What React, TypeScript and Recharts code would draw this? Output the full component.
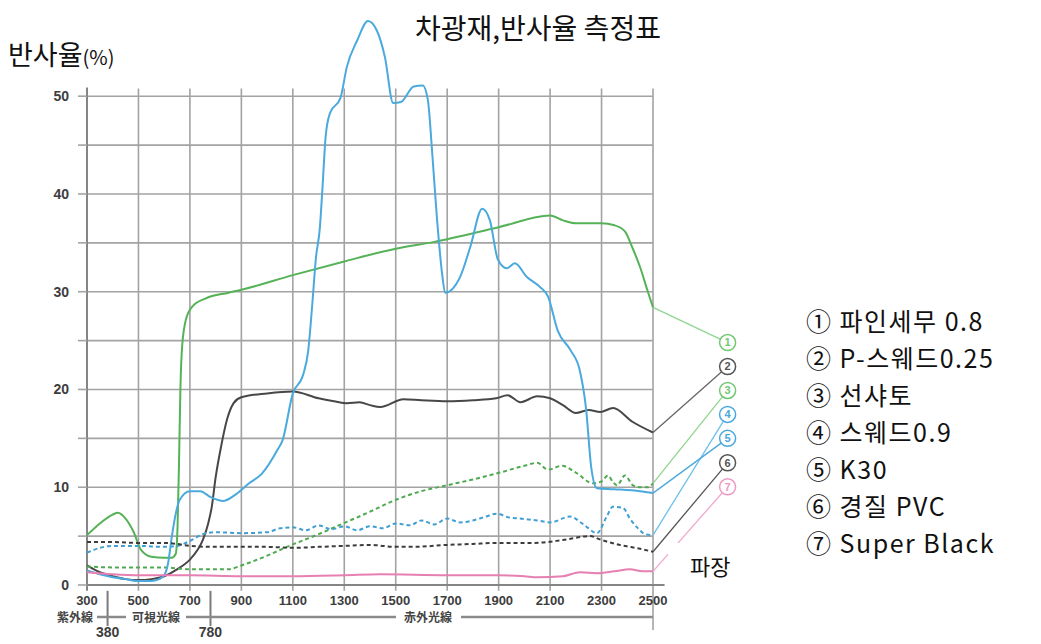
import React from 'react';
import { LineChart, Line, XAxis, YAxis, ReferenceLine, ReferenceDot } from 'recharts';

// ---------- data ----------
const xTicks = [300, 500, 700, 900, 1100, 1300, 1500, 1700, 1900, 2100, 2300, 2500];
const yTicks = [0, 5, 10, 15, 20, 25, 30, 35, 40, 45, 50];

// ① 파인세무 0.8 (green solid)
const s1Wave = [300, 350, 400, 420, 450, 480, 510, 550, 600, 630, 645, 652, 658, 663, 670, 685, 710, 760, 850, 900, 1100, 1300, 1500, 1650, 1900, 2100, 2150, 2200, 2300, 2350, 2390, 2420, 2450, 2480, 2500];
const s1Val = [5.1, 6.3, 7.2, 7.4, 6.8, 5.5, 3.6, 2.9, 2.8, 2.8, 3.2, 6, 13, 20, 24.5, 27.2, 28.5, 29.3, 29.9, 30.2, 31.7, 33.1, 34.4, 35.1, 36.6, 37.8, 37.3, 37.0, 37.0, 36.8, 36.2, 34.5, 32.5, 30, 28.4];

// ② P-스웨드0.25 (dark solid)
const s2Wave = [300, 350, 400, 450, 500, 550, 600, 650, 700, 730, 750, 770, 785, 800, 820, 845, 870, 900, 1000, 1100, 1200, 1260, 1310, 1360, 1400, 1440, 1530, 1600, 1700, 1800, 1890, 1935, 1985, 2050, 2100, 2150, 2200, 2250, 2295, 2345, 2420, 2500];
const s2Val = [2.0, 1.3, 0.9, 0.6, 0.5, 0.6, 0.9, 1.6, 2.6, 3.6, 4.6, 6.2, 8.0, 11, 14, 17, 18.6, 19.2, 19.6, 19.8, 19.1, 18.8, 18.6, 18.7, 18.4, 18.2, 19.0, 18.9, 18.8, 18.9, 19.1, 19.4, 18.7, 19.3, 19.1, 18.4, 17.6, 17.9, 17.7, 18.1, 16.7, 15.6];

// ③ 선샤토 (green dashed)
const s3Wave = [300, 400, 500, 600, 650, 700, 850, 900, 1000, 1077, 1200, 1296, 1400, 1490, 1600, 1700, 1800, 1905, 2000, 2050, 2092, 2146, 2200, 2267, 2300, 2325, 2345, 2360, 2391, 2422, 2450, 2480, 2500];
const s3Val = [1.9, 1.8, 1.8, 1.8, 1.7, 1.6, 1.6, 2.0, 3.0, 3.9, 5.2, 6.3, 7.5, 8.6, 9.6, 10.2, 10.8, 11.5, 12.2, 12.5, 11.8, 12.2, 11.5, 10.4, 10.6, 11.2, 10.5, 10.2, 11.2, 10.2, 10.0, 10.0, 10.4];

// ④ 스웨드0.9 (blue dashed)
const s4Wave = [300, 350, 400, 500, 600, 650, 700, 750, 800, 900, 1000, 1050, 1100, 1150, 1200, 1250, 1300, 1350, 1400, 1450, 1500, 1555, 1600, 1650, 1700, 1750, 1800, 1850, 1893, 1940, 1983, 2050, 2100, 2177, 2230, 2282, 2320, 2344, 2383, 2410, 2438, 2470, 2500];
const s4Val = [3.3, 3.8, 4.0, 4.0, 3.9, 4.0, 4.5, 5.2, 5.4, 5.3, 5.4, 5.8, 5.9, 5.6, 6.1, 5.7, 6.0, 5.6, 6.0, 5.8, 6.3, 6.1, 6.6, 6.2, 6.8, 6.4, 6.6, 7.0, 7.3, 6.9, 6.8, 6.6, 6.4, 7.0, 6.2, 5.3, 7.0, 8.0, 7.9, 6.8, 5.9, 5.2, 5.1];

// ⑤ K30 (blue solid)
const s5Wave = [300, 350, 400, 450, 500, 550, 580, 600, 615, 630, 645, 660, 700, 740, 780, 830, 880, 930, 980, 1040, 1060, 1100, 1140, 1160, 1175, 1190, 1205, 1215, 1228, 1245, 1285, 1310, 1350, 1392, 1427, 1458, 1490, 1520, 1570, 1605, 1625, 1641, 1660, 1680, 1692, 1750, 1790, 1836, 1866, 1897, 1932, 1963, 2010, 2060, 2092, 2130, 2180, 2215, 2240, 2260, 2282, 2350, 2450, 2500];
const s5Val = [1.5, 1.1, 0.8, 0.6, 0.4, 0.4, 0.6, 1.0, 2.2, 5.0, 7.3, 8.7, 9.6, 9.6, 9.0, 8.6, 9.3, 10.4, 11.4, 13.8, 14.8, 19.6, 21.5, 24, 28.5, 33.5, 36.5, 40.5, 46, 48.3, 49.8, 53, 55.7, 57.7, 56.7, 54, 49.3, 49.4, 51, 51.1, 49.6, 44.5, 37.6, 31.9, 29.9, 31.5, 34.6, 38.5, 37.3, 33.3, 32.4, 32.9, 31.5, 30.5, 29.5, 26, 24, 22, 18, 12, 9.9, 9.8, 9.6, 9.4];

// ⑥ 경질 PVC (dark dashed)
const s6Wave = [300, 400, 500, 600, 650, 700, 800, 900, 1000, 1100, 1200, 1300, 1400, 1500, 1567, 1700, 1800, 1893, 2033, 2150, 2255, 2300, 2372, 2450, 2500];
const s6Val = [4.4, 4.4, 4.3, 4.3, 4.2, 4.0, 3.9, 3.9, 3.9, 3.8, 3.9, 4.0, 4.1, 3.9, 3.9, 4.1, 4.2, 4.3, 4.3, 4.6, 5.0, 4.6, 4.1, 3.7, 3.4];

// ⑦ Super Black (pink)
const s7Wave = [300, 400, 500, 700, 900, 1100, 1300, 1440, 1700, 1900, 2000, 2050, 2150, 2216, 2282, 2350, 2410, 2460, 2500];
const s7Val = [1.3, 1.1, 1.0, 1.0, 0.9, 0.9, 1.0, 1.1, 1.0, 1.0, 0.9, 0.8, 0.9, 1.3, 1.2, 1.4, 1.6, 1.4, 1.4];

const legendLabels = ['① 파인세무 0.8', '② P-스웨드0.25', '③ 선샤토', '④ 스웨드0.9', '⑤ K30', '⑥ 경질 PVC', '⑦ Super Black'];
const legendNums = ['1', '2', '3', '4', '5', '6', '7'];

// ---------- styling / layout ----------
const GRID = '#a3a3a3';
const AXIS = '#858585';
const KR = "'Noto Sans CJK KR', 'Noto Sans', sans-serif";
const JP = "'Noto Sans CJK JP', 'Noto Sans', sans-serif";
const NUM = "'Liberation Sans', Arial, sans-serif";

const LEGEND_X = 2790; // leader-line target column (outside plot)
const legendSlot = [24.8, 22.35, 19.9, 17.45, 15.0, 12.5, 10.05];

const build = (w: number[], v: number[]) => w.map((x, i) => ({ x, y: v[i] }));

const series = [
  { wave: s1Wave, val: s1Val, color: '#55b257', dash: undefined, circle: '#72c872', leader: '#8ed68e' },
  { wave: s2Wave, val: s2Val, color: '#474747', dash: undefined, circle: '#555555', leader: '#666666' },
  { wave: s3Wave, val: s3Val, color: '#4fa94f', dash: '4 3', circle: '#72c872', leader: '#8ed68e' },
  { wave: s4Wave, val: s4Val, color: '#3f9fd3', dash: '4 3', circle: '#4aa8dc', leader: '#6cc0ea' },
  { wave: s5Wave, val: s5Val, color: '#4aa9dd', dash: undefined, circle: '#4aa8dc', leader: '#4aa8dc' },
  { wave: s6Wave, val: s6Val, color: '#3c3c3c', dash: '4 3', circle: '#555555', leader: '#555555' },
  { wave: s7Wave, val: s7Val, color: '#e67fb2', dash: undefined, circle: '#ee99c4', leader: '#f0a8cc' },
];

const XTick = (props: any) => {
  const { x, y, payload } = props;
  return (
    <text x={x} y={y + 20} textAnchor="middle" fontFamily={NUM} fontWeight="bold" fontSize={13} fill="#3d3d3d">
      {payload.value}
    </text>
  );
};

const YTick = (props: any) => {
  const { x, y, payload } = props;
  if (payload.value % 10 !== 0) return <g />;
  return (
    <text x={x} y={y} dy={5} textAnchor="end" fontFamily={NUM} fontWeight="bold" fontSize={14} fill="#3d3d3d">
      {payload.value}
    </text>
  );
};

export default function App() {
  const W = 1025;
  const H = 636;
  return (
    <div style={{ position: 'relative', width: W, height: H, background: '#fff' }}>
      <LineChart width={W} height={H} margin={{ top: 10, right: 380, bottom: 29, left: 0 }}>
        <XAxis
          type="number"
          dataKey="x"
          domain={[300, 2500]}
          ticks={xTicks}
          interval={0}
          axisLine={false}
          tickLine={false}
          tickSize={0}
          tickMargin={0}
          height={30}
          tick={<XTick />}
        />
        <YAxis
          type="number"
          domain={[0, 58]}
          ticks={yTicks}
          interval={0}
          width={79}
          axisLine={false}
          tickLine={{ stroke: GRID, strokeWidth: 1.6 }}
          tickSize={9}
          tickMargin={9}
          tick={<YTick />}
        />
        {yTicks.slice(1).map((t) => (
          <ReferenceLine key={'h' + t} segment={[{ x: 300, y: t }, { x: 2500, y: t }]} stroke={GRID} strokeWidth={1.6} ifOverflow="visible" />
        ))}
        {xTicks.slice(1, -1).map((t) => (
          <ReferenceLine key={'v' + t} segment={[{ x: t, y: -0.6 }, { x: t, y: 50.8 }]} stroke={GRID} strokeWidth={1.6} ifOverflow="visible" />
        ))}
        <ReferenceLine segment={[{ x: 2500, y: -4.6 }, { x: 2500, y: 50.8 }]} stroke={GRID} strokeWidth={1.6} ifOverflow="visible" />
        <ReferenceLine segment={[{ x: 300, y: -0.6 }, { x: 300, y: 50.9 }]} stroke={AXIS} strokeWidth={2} ifOverflow="visible" />
        <ReferenceLine segment={[{ x: 300, y: 0 }, { x: 2545, y: 0 }]} stroke={AXIS} strokeWidth={2} ifOverflow="visible" />
        <ReferenceLine
          segment={[{ x: 380, y: -0.6 }, { x: 380, y: -4.2 }]}
          stroke="#7a7a7a"
          strokeWidth={2}
          ifOverflow="visible"
          label={{ value: '380', position: 'bottom', offset: 1, fontFamily: NUM, fontWeight: 'bold', fontSize: 14, fill: '#3d3d3d' }}
        />
        <ReferenceLine
          segment={[{ x: 780, y: -0.6 }, { x: 780, y: -4.2 }]}
          stroke="#7a7a7a"
          strokeWidth={2}
          ifOverflow="visible"
          label={{ value: '780', position: 'bottom', offset: 1, fontFamily: NUM, fontWeight: 'bold', fontSize: 14, fill: '#3d3d3d' }}
        />
        {series.map((s, i) => (
          <ReferenceLine
            key={'lead' + i}
            segment={[{ x: 2500, y: s.val[s.val.length - 1] }, { x: LEGEND_X, y: legendSlot[i] }]}
            stroke={s.leader}
            strokeWidth={1.3}
            ifOverflow="visible"
          />
        ))}
        {series.map((s, i) => (
          <Line
            key={'s' + i}
            data={build(s.wave, s.val)}
            dataKey="y"
            type="monotone"
            stroke={s.color}
            strokeWidth={2}
            strokeDasharray={s.dash}
            dot={false}
            activeDot={false}
            isAnimationActive={false}
          />
        ))}
        {series.map((s, i) => (
          <ReferenceDot
            key={'dot' + i}
            x={LEGEND_X}
            y={legendSlot[i]}
            r={8}
            fill="#ffffff"
            stroke={s.circle}
            strokeWidth={1.5}
            ifOverflow="visible"
            label={{ value: legendNums[i], position: 'center', fill: s.circle, fontSize: 11, fontWeight: 'bold', fontFamily: NUM }}
          />
        ))}
      </LineChart>
      <svg width={W} height={H} style={{ position: 'absolute', left: 0, top: 0, pointerEvents: 'none' }}>
        <text x={407} y={31} fontFamily={KR} fontSize={28} fill="#111">차광재,반사율 측정표</text>
        <text x={0} y={57} fontFamily={KR} fill="#111">
          <tspan fontSize={27}>반사율</tspan>
          <tspan fontSize={20}>(%)</tspan>
        </text>
        <rect x={660} y={535} width={92} height={49} fill="#fff" />
        <text x={682} y={567} fontFamily={KR} fontSize={22} fill="#111">파장</text>
        {legendLabels.map((l, i) => (
          <text key={l} x={798} y={323 + i * 37} fontFamily={KR} fontSize={25} letterSpacing={1.5} fill="#111">{l}</text>
        ))}
        <g stroke="#8a8a8a" strokeWidth={2.5}>
          <line x1={89} y1={609} x2={118} y2={609} />
          <line x1={178} y1={609} x2={388} y2={609} />
          <line x1={453} y1={609} x2={645} y2={609} />
        </g>
        <g fontFamily={JP} fontWeight="bold" fontSize={12} fill="#444" textAnchor="middle">
          <text x={67} y={614}>紫外線</text>
          <text x={148} y={614}>可視光線</text>
          <text x={420} y={614}>赤外光線</text>
        </g>
      </svg>
    </div>
  );
}
